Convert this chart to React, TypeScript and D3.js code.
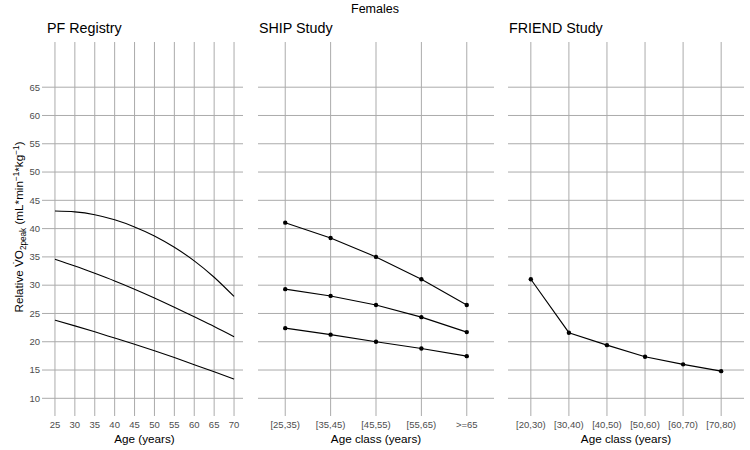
import React from "react";
import * as d3 from "d3";

const pfAges = [25, 30, 35, 40, 45, 50, 55, 60, 65, 70];
const pfHigh = [43.1, 42.95, 42.45, 41.55, 40.3, 38.7, 36.7, 34.3, 31.4, 28.0];
const pfMid = [34.6, 33.4, 32.1, 30.75, 29.3, 27.75, 26.1, 24.4, 22.7, 20.9];
const pfLow = [23.8, 22.8, 21.75, 20.65, 19.55, 18.4, 17.2, 15.95, 14.7, 13.4];

const shipClasses = ["[25,35)", "[35,45)", "[45,55)", "[55,65)", ">=65"];
const shipHigh = [41.05, 38.35, 35.0, 31.05, 26.5];
const shipMid = [29.3, 28.1, 26.5, 24.35, 21.7];
const shipLow = [22.4, 21.25, 20.0, 18.8, 17.45];

const friendClasses = ["[20,30)", "[30,40)", "[40,50)", "[50,60)", "[60,70)", "[70,80)"];
const friendValues = [31.05, 21.6, 19.4, 17.35, 16.0, 14.8];

const yTicks = [10, 15, 20, 25, 30, 35, 40, 45, 50, 55, 60, 65];
const pfTicks = [25, 30, 35, 40, 45, 50, 55, 60, 65, 70];

const GRID = "#ababab";
const TXT = "#4d4d4d";
const FONT = "Liberation Sans, Arial, sans-serif";

const TOP = 42;
const BOTTOM = 412;

export default function App() {
  const y = d3.scaleLinear().domain([10, 65]).range([398.3, 87.2]);

  const x1 = d3.scaleLinear().domain([22.75, 72.25]).range([46, 243]);
  const x2 = d3.scalePoint<string>().domain(shipClasses).range([258, 494]).padding(0.6);
  const x3 = d3.scalePoint<string>().domain(friendClasses).range([508, 744]).padding(0.6);

  const lineNum = d3
    .line<[number, number]>()
    .x((d) => x1(d[0]))
    .y((d) => y(d[1]))
    .curve(d3.curveNatural);

  const line2 = d3
    .line<[string, number]>()
    .x((d) => x2(d[0]) as number)
    .y((d) => y(d[1]));
  const line3 = d3
    .line<[string, number]>()
    .x((d) => x3(d[0]) as number)
    .y((d) => y(d[1]));

  const hGrid = (x0: number, x1v: number, key: string) =>
    yTicks.map((t) => (
      <line key={key + t} x1={x0} x2={x1v} y1={y(t)} y2={y(t)} stroke={GRID} strokeWidth={1} />
    ));

  const vGrid = (xs: number[], key: string, labels: string[]) =>
    xs.map((xv, i) => (
      <g key={key + i}>
        <line x1={xv} x2={xv} y1={TOP} y2={BOTTOM + 4} stroke={GRID} strokeWidth={1} />
        <text x={xv} y={428} textAnchor="middle" fontSize={9.5} fill={TXT} fontFamily={FONT}>
          {labels[i]}
        </text>
      </g>
    ));

  const pfSeries = [pfHigh, pfMid, pfLow];
  const shipSeries = [shipHigh, shipMid, shipLow];

  return (
    <svg width={750} height={450} style={{ position: "absolute", left: 0, top: 0, background: "#fff" }} fontFamily={FONT}>
      <rect x={0} y={0} width={750} height={450} fill="#fff" />
      <text x={375} y={13} textAnchor="middle" fontSize={12.5} fill="#000">
        Females
      </text>

      {/* Panel 1 */}
      <text x={47} y={32.5} fontSize={14.3} fill="#000">PF Registry</text>
      {hGrid(46, 243, "h1")}
      {vGrid(pfTicks.map((t) => x1(t)), "v1", pfTicks.map(String))}
      {yTicks.map((t) => (
        <g key={"yt" + t}>
          <line x1={42} x2={46} y1={y(t)} y2={y(t)} stroke={GRID} strokeWidth={1} />
          <text x={40} y={y(t) + 3.3} textAnchor="end" fontSize={9.5} fill={TXT}>
            {t}
          </text>
        </g>
      ))}
      {pfSeries.map((s, i) => (
        <path
          key={"pf" + i}
          d={lineNum(pfAges.map((a, j) => [a, s[j]] as [number, number])) || ""}
          fill="none"
          stroke="#000"
          strokeWidth={1.1}
        />
      ))}
      <text x={144.5} y={443} textAnchor="middle" fontSize={11.7} fill="#000">Age (years)</text>
      <text transform="translate(23,227) rotate(-90)" textAnchor="middle" fontSize={11.7} fill="#000">
        Relative V̇O<tspan fontSize={8.2} dy={3}>2peak</tspan>
        <tspan dy={-3}> (mL*min</tspan>
        <tspan fontSize={8.2} dy={-4.5}>−1</tspan>
        <tspan dy={4.5}>*kg</tspan>
        <tspan fontSize={8.2} dy={-4.5}>−1</tspan>
        <tspan dy={4.5}>)</tspan>
      </text>

      {/* Panel 2 */}
      <text x={259} y={32.5} fontSize={14.3} fill="#000">SHIP Study</text>
      {hGrid(258, 494, "h2")}
      {vGrid(shipClasses.map((c) => x2(c) as number), "v2", shipClasses)}
      {shipSeries.map((s, i) => (
        <g key={"sh" + i}>
          <path
            d={line2(shipClasses.map((c, j) => [c, s[j]] as [string, number])) || ""}
            fill="none"
            stroke="#000"
            strokeWidth={1.1}
          />
          {shipClasses.map((c, j) => (
            <circle key={c} cx={x2(c) as number} cy={y(s[j])} r={2.2} fill="#000" />
          ))}
        </g>
      ))}
      <text x={376} y={443} textAnchor="middle" fontSize={11.7} fill="#000">Age class (years)</text>

      {/* Panel 3 */}
      <text x={509} y={32.5} fontSize={14.3} fill="#000">FRIEND Study</text>
      {hGrid(508, 744, "h3")}
      {vGrid(friendClasses.map((c) => x3(c) as number), "v3", friendClasses)}
      <path
        d={line3(friendClasses.map((c, j) => [c, friendValues[j]] as [string, number])) || ""}
        fill="none"
        stroke="#000"
        strokeWidth={1.1}
      />
      {friendClasses.map((c, j) => (
        <circle key={c} cx={x3(c) as number} cy={y(friendValues[j])} r={2.2} fill="#000" />
      ))}
      <text x={626} y={443} textAnchor="middle" fontSize={11.7} fill="#000">Age class (years)</text>
    </svg>
  );
}
